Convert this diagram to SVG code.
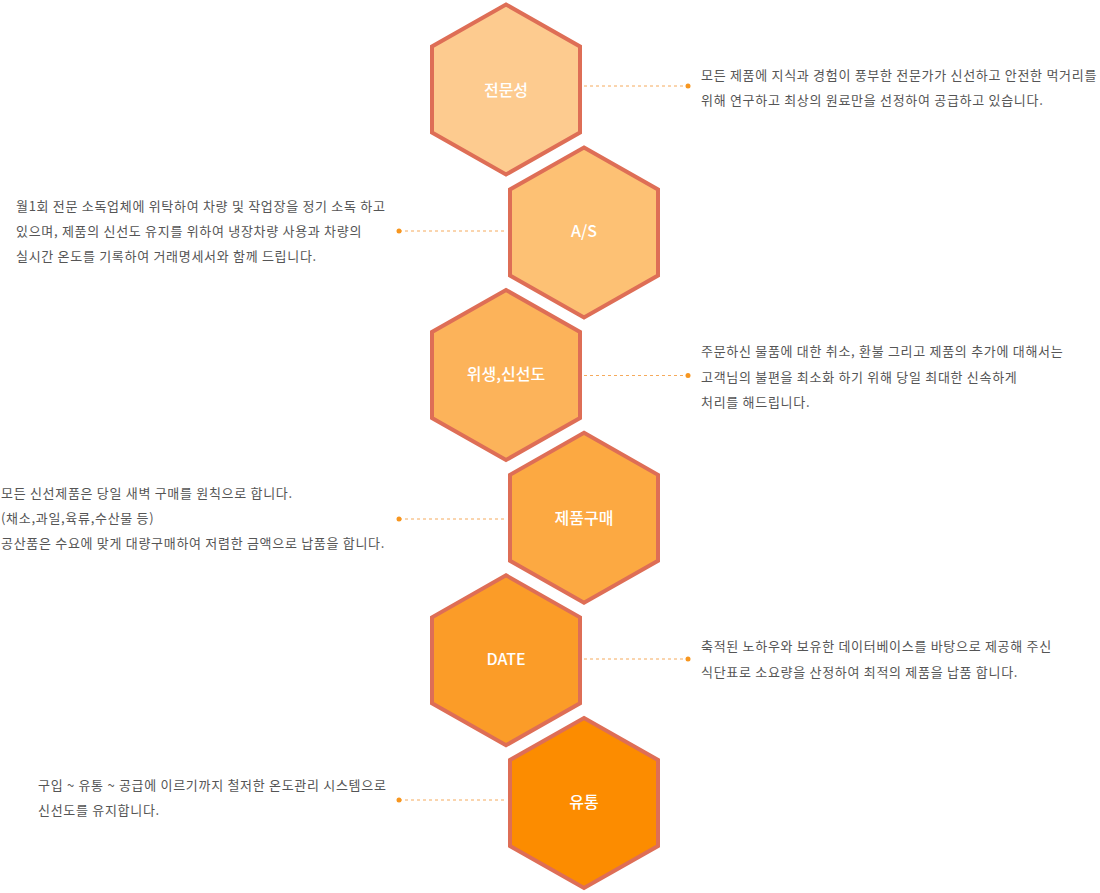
<svg xmlns="http://www.w3.org/2000/svg" width="1100" height="893" viewBox="0 0 1100 893">
<defs>
<style>
.hex{stroke:#DE6E56;stroke-width:4;stroke-linejoin:miter}
.lbl{font-family:"Noto Sans CJK KR","Noto Sans",sans-serif;font-size:16px;font-weight:500;fill:#FFFFFF;text-anchor:middle}
.txt{font-family:"Noto Sans CJK KR","Noto Sans",sans-serif;font-size:13px;letter-spacing:0.7px;fill:#555555}
.dash{stroke:#F5AA5C;stroke-width:1;stroke-dasharray:3 3;fill:none}
.dot{fill:#F7961F}
</style>
<polygon id="hexshape" points="0,-85 74,-43 74,43 0,85 -74,43 -74,-43"/>
</defs>
<rect width="1100" height="893" fill="#FFFFFF"/>
<g id="connectors">
<line class="dash" x1="584" y1="86" x2="688" y2="86"/>
<circle class="dot" cx="688" cy="86" r="2.5"/>
<line class="dash" x1="399" y1="231" x2="505" y2="231"/>
<circle class="dot" cx="399" cy="231" r="2.5"/>
<line class="dash" x1="584" y1="375.5" x2="688" y2="375.5"/>
<circle class="dot" cx="688" cy="375.5" r="2.5"/>
<line class="dash" x1="399" y1="519" x2="505" y2="519"/>
<circle class="dot" cx="399" cy="519" r="2.5"/>
<line class="dash" x1="584" y1="659" x2="688" y2="659"/>
<circle class="dot" cx="688" cy="659" r="2.5"/>
<line class="dash" x1="399" y1="800" x2="505" y2="800"/>
<circle class="dot" cx="399" cy="800" r="2.5"/>
</g>
<g id="node-1">
<use href="#hexshape" class="hex" fill="#FDCB8F" x="506" y="89.5"/>
<text class="lbl" x="506" y="96">전문성</text>
<text class="txt" x="701" y="80">모든 제품에 지식과 경험이 풍부한 전문가가 신선하고 안전한 먹거리를</text>
<text class="txt" x="701" y="105">위해 연구하고 최상의 원료만을 선정하여 공급하고 있습니다.</text>
</g>
<g id="node-2">
<use href="#hexshape" class="hex" fill="#FDC174" x="584" y="232.5"/>
<text class="lbl" x="584" y="237">A/S</text>
<text class="txt" x="16" y="211">월1회 전문 소독업체에 위탁하여 차량 및 작업장을 정기 소독 하고</text>
<text class="txt" x="16" y="236">있으며, 제품의 신선도 유지를 위하여 냉장차량 사용과 차량의</text>
<text class="txt" x="16" y="261">실시간 온도를 기록하여 거래명세서와 함께 드립니다.</text>
</g>
<g id="node-3">
<use href="#hexshape" class="hex" fill="#FCB35A" x="506" y="375"/>
<text class="lbl" x="506" y="380">위생,신선도</text>
<text class="txt" x="701" y="356">주문하신 물품에 대한 취소, 환불 그리고 제품의 추가에 대해서는</text>
<text class="txt" x="701" y="382">고객님의 불편을 최소화 하기 위해 당일 최대한 신속하게</text>
<text class="txt" x="701" y="407">처리를 해드립니다.</text>
</g>
<g id="node-4">
<use href="#hexshape" class="hex" fill="#FCA942" x="584" y="517.8"/>
<text class="lbl" x="584" y="524">제품구매</text>
<text class="txt" x="1" y="498">모든 신선제품은 당일 새벽 구매를 원칙으로 합니다.</text>
<text class="txt" x="1" y="523">(채소,과일,육류,수산물 등)</text>
<text class="txt" x="1" y="548">공산품은 수요에 맞게 대량구매하여 저렴한 금액으로 납품을 합니다.</text>
</g>
<g id="node-5">
<use href="#hexshape" class="hex" fill="#FB9C28" x="506" y="660.3"/>
<text class="lbl" x="506" y="665">DATE</text>
<text class="txt" x="701" y="651">축적된 노하우와 보유한 데이터베이스를 바탕으로 제공해 주신</text>
<text class="txt" x="701" y="677">식단표로 소요량을 산정하여 최적의 제품을 납품 합니다.</text>
</g>
<g id="node-6">
<use href="#hexshape" class="hex" fill="#FC8C00" x="584" y="803"/>
<text class="lbl" x="584" y="808">유통</text>
<text class="txt" x="38" y="790">구입 ~ 유통 ~ 공급에 이르기까지 철저한 온도관리 시스템으로</text>
<text class="txt" x="38" y="815">신선도를 유지합니다.</text>
</g>
</svg>
